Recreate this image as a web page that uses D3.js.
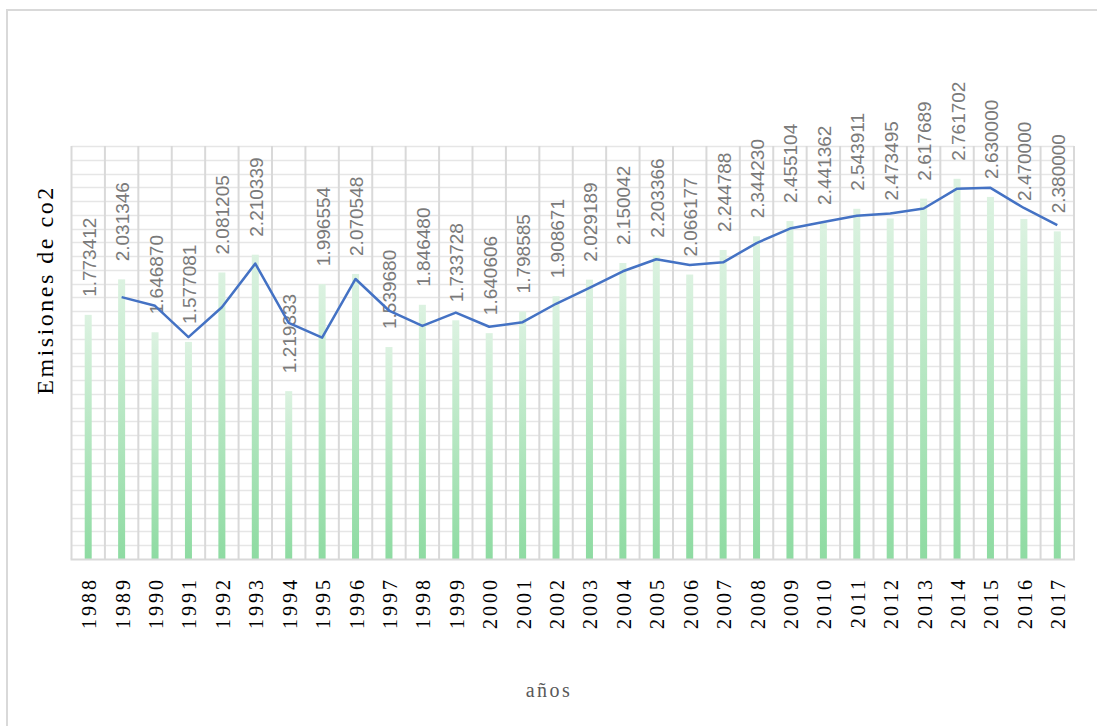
<!DOCTYPE html>
<html>
<head>
<meta charset="utf-8">
<script src="https://cdn.jsdelivr.net/npm/d3@7"></script>
<style>
  html, body { margin: 0; padding: 0; background: #fff; }
  svg { display: block; }
  .serif { font-family: "Liberation Serif", "Times New Roman", serif; }
  .sans { font-family: "Liberation Sans", Arial, sans-serif; }
</style>
</head>
<body>
<svg id="chart" width="1097" height="726"></svg>
<script>
// Años y emisiones de CO2
const years = ["1988","1989","1990","1991","1992","1993","1994","1995","1996","1997",
  "1998","1999","2000","2001","2002","2003","2004","2005","2006","2007",
  "2008","2009","2010","2011","2012","2013","2014","2015","2016","2017"];
const emisiones = [1.773412, 2.031346, 1.646870, 1.577081, 2.081205, 2.210339, 1.219333,
  1.996554, 2.070548, 1.539680, 1.846480, 1.733728, 1.640606, 1.798585, 1.908671,
  2.029189, 2.150042, 2.203366, 2.066177, 2.244788, 2.344230, 2.455104, 2.441362,
  2.543911, 2.473495, 2.617689, 2.761702, 2.630000, 2.470000, 2.380000];
// Línea de tendencia (media móvil de 2 periodos), de 1989 a 2017
const tendenciaYears = years.slice(1);
const tendencia = [1.902, 1.839, 1.612, 1.829, 2.146, 1.715, 1.608, 2.034, 1.805, 1.693,
  1.790, 1.687, 1.720, 1.854, 1.969, 2.090, 2.177, 2.135, 2.155, 2.295,
  2.400, 2.448, 2.493, 2.509, 2.546, 2.690, 2.696, 2.550, 2.425];
const yTicks = d3.range(0, 31).map(i => i / 10);

const svg = d3.select("#chart");
const plot = { left: 71.5, right: 1074, top: 146, bottom: 559 };

const x = d3.scaleBand().domain(years).range([plot.left, plot.right]).paddingInner(0).paddingOuter(0);
const y = d3.scaleLinear().domain([0, 3]).range([plot.bottom, plot.top]);

// Marco exterior del gráfico
svg.append("rect")
  .attr("x", 7).attr("y", 10).attr("width", 1200).attr("height", 800)
  .attr("fill", "#fff").attr("stroke", "#d9d9d9").attr("stroke-width", 2);

// Degradado de las barras
const defs = svg.append("defs");
const grad = defs.append("linearGradient").attr("id", "barGrad")
  .attr("x1", 0).attr("y1", 0).attr("x2", 0).attr("y2", 1);
grad.append("stop").attr("offset", "0%").attr("stop-color", "#dcf2e1");
grad.append("stop").attr("offset", "100%").attr("stop-color", "#8edba2");

// Líneas de cuadrícula horizontales
svg.append("g").selectAll("line").data(yTicks.slice(1)).join("line")
  .attr("x1", plot.left).attr("x2", plot.right)
  .attr("y1", d => Math.round(y(d)) + 0.5).attr("y2", d => Math.round(y(d)) + 0.5)
  .attr("stroke", "#e6e6e6").attr("stroke-width", 1.3);

// Líneas de cuadrícula verticales (límites de categoría)
const bounds = years.map(d => x(d)).concat([plot.right]);
svg.append("g").selectAll("line").data(bounds).join("line")
  .attr("x1", d => d).attr("x2", d => d)
  .attr("y1", plot.top).attr("y2", plot.bottom)
  .attr("stroke", "#d9d9d9").attr("stroke-width", 2);

// Barras
const barW = 7;
svg.append("g").selectAll("rect").data(emisiones).join("rect")
  .attr("x", (d, i) => x(years[i]) + x.bandwidth() / 2 - barW / 2)
  .attr("y", d => y(d))
  .attr("width", barW)
  .attr("height", d => y(0) - y(d))
  .attr("fill", "url(#barGrad)");

// Eje horizontal
svg.append("line")
  .attr("x1", plot.left - 1).attr("x2", plot.right + 1)
  .attr("y1", plot.bottom + 0.5).attr("y2", plot.bottom + 0.5)
  .attr("stroke", "#d9d9d9").attr("stroke-width", 2);

// Etiquetas de datos
svg.append("g").attr("class", "sans").selectAll("text").data(emisiones).join("text")
  .attr("transform", (d, i) => `translate(${x(years[i]) + x.bandwidth() / 2 + 7.5},${y(d) - 18}) rotate(-90)`)
  .attr("text-anchor", "start")
  .style("font-size", "19px")
  .attr("fill", "#7a7a7a")
  .text(d => d.toFixed(6));

// Línea de tendencia
const line = d3.line()
  .x((d, i) => x(tendenciaYears[i]) + x.bandwidth() / 2)
  .y(d => y(d));
svg.append("path").datum(tendencia)
  .attr("d", line)
  .attr("fill", "none")
  .attr("stroke", "#4472c4")
  .attr("stroke-width", 2.5)
  .attr("stroke-linejoin", "round");

// Etiquetas del eje X
svg.append("g").attr("class", "serif").selectAll("text").data(years).join("text")
  .attr("transform", d => `translate(${x(d) + x.bandwidth() / 2 + 8},577) rotate(-90)`)
  .attr("text-anchor", "end")
  .style("font-size", "20px")
  .style("letter-spacing", "3px")
  .attr("fill", "#000")
  .text(d => d);

// Títulos de ejes
svg.append("text")
  .attr("class", "serif")
  .attr("transform", "translate(53,290) rotate(-90)")
  .attr("text-anchor", "middle")
  .style("font-size", "24px")
  .style("letter-spacing", "2.5px")
  .attr("fill", "#000")
  .text("Emisiones de co2");

svg.append("text")
  .attr("class", "serif")
  .attr("x", 549).attr("y", 697)
  .attr("text-anchor", "middle")
  .style("font-size", "20px")
  .style("letter-spacing", "2.5px")
  .attr("fill", "#595959")
  .text("años");
</script>
</body>
</html>
